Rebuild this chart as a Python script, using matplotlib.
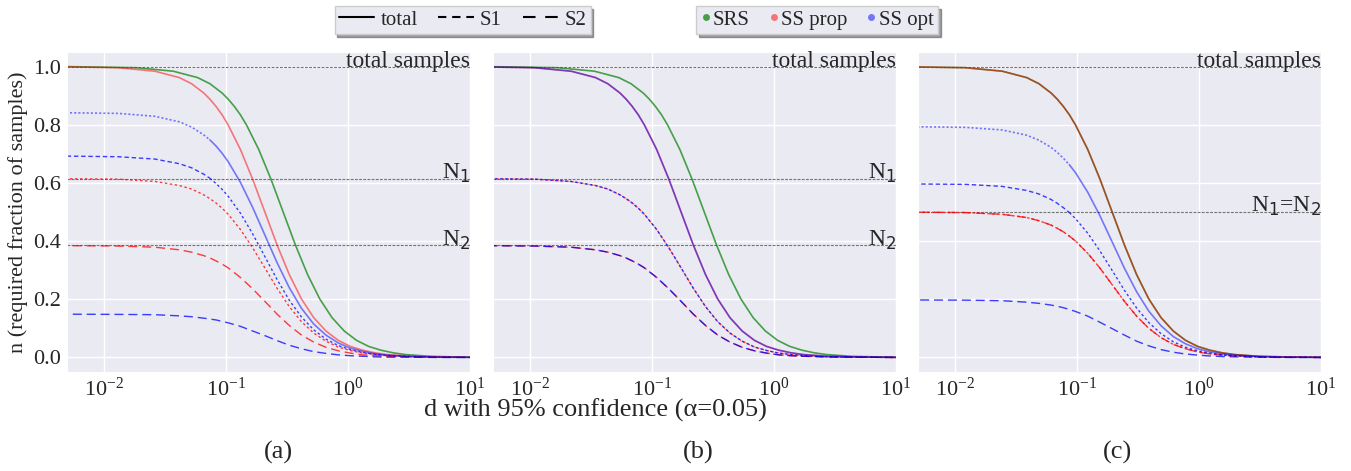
import numpy as np
import matplotlib
matplotlib.use("Agg")
import matplotlib.pyplot as plt
import seaborn as sns
from matplotlib.lines import Line2D
from matplotlib.ticker import NullFormatter, FixedLocator
import matplotlib.transforms as mtransforms

# ---------------- data ----------------
# x positions, log10(d)
logd_a_ss = [-2.48, -1.88, -1.58, -1.38, -1.28, -1.18, -1.13, -1.08, -1.03, -0.98, -0.88, -0.78, -0.68,
             -0.58, -0.48, -0.38, -0.28, -0.18, -0.08, 0.02, 0.12, 0.22, 0.32, 0.52, 0.72, 1.12]
logd_a_srs = [-2.33, -1.73, -1.43, -1.23, -1.13, -1.03, -0.98, -0.93, -0.88, -0.83, -0.73, -0.63, -0.53,
              -0.43, -0.33, -0.23, -0.13, -0.03, 0.07, 0.17, 0.27, 0.37, 0.47, 0.67, 0.87, 1.27]
logd_b_ss = [-2.56, -1.96, -1.66, -1.46, -1.36, -1.26, -1.21, -1.16, -1.11, -1.06, -0.96, -0.86, -0.76,
             -0.66, -0.56, -0.46, -0.36, -0.26, -0.16, -0.06, 0.04, 0.14, 0.24, 0.44, 0.64, 1.04]
logd_b_srs = [-2.37, -1.77, -1.47, -1.27, -1.17, -1.07, -1.02, -0.97, -0.92, -0.87, -0.77, -0.67, -0.57,
              -0.47, -0.37, -0.27, -0.17, -0.07, 0.03, 0.13, 0.23, 0.33, 0.43, 0.63, 0.83, 1.23]
logd_c = [-2.51, -1.91, -1.61, -1.41, -1.31, -1.21, -1.16, -1.11, -1.06, -1.01, -0.91, -0.81, -0.71,
          -0.61, -0.51, -0.41, -0.31, -0.21, -0.11, -0.01, 0.09, 0.19, 0.29, 0.49, 0.69, 1.09]

# panel (a)
a_srs_total = [1.000, 0.996, 0.984, 0.962, 0.941, 0.909, 0.888, 0.863, 0.834, 0.799, 0.715, 0.613, 0.500,
               0.387, 0.285, 0.201, 0.137, 0.091, 0.059, 0.038, 0.025, 0.016, 0.010, 0.004, 0.002, 0.000]
a_prop_total = [1.000, 0.996, 0.984, 0.962, 0.941, 0.909, 0.888, 0.863, 0.834, 0.799, 0.715, 0.613, 0.500,
                0.387, 0.285, 0.201, 0.137, 0.091, 0.059, 0.038, 0.025, 0.016, 0.010, 0.004, 0.002, 0.000]
a_prop_s1 = [0.615, 0.613, 0.605, 0.591, 0.579, 0.559, 0.546, 0.531, 0.513, 0.492, 0.440, 0.377, 0.308,
             0.238, 0.175, 0.123, 0.084, 0.056, 0.036, 0.024, 0.015, 0.010, 0.006, 0.002, 0.001, 0.000]
a_prop_s2 = [0.385, 0.383, 0.379, 0.370, 0.362, 0.350, 0.342, 0.332, 0.321, 0.308, 0.275, 0.236, 0.193,
             0.149, 0.110, 0.077, 0.053, 0.035, 0.023, 0.015, 0.009, 0.006, 0.004, 0.002, 0.001, 0.000]
a_opt_total = [0.842, 0.839, 0.829, 0.810, 0.792, 0.765, 0.748, 0.727, 0.702, 0.673, 0.602, 0.516, 0.421,
               0.326, 0.240, 0.169, 0.115, 0.077, 0.050, 0.032, 0.021, 0.013, 0.008, 0.003, 0.001, 0.000]
a_opt_s1 = [0.693, 0.690, 0.682, 0.666, 0.652, 0.630, 0.616, 0.598, 0.578, 0.554, 0.496, 0.425, 0.347,
            0.268, 0.197, 0.139, 0.095, 0.063, 0.041, 0.027, 0.017, 0.011, 0.007, 0.003, 0.001, 0.000]
a_opt_s2 = [0.149, 0.148, 0.147, 0.143, 0.140, 0.135, 0.132, 0.129, 0.124, 0.119, 0.107, 0.091, 0.075,
            0.058, 0.042, 0.030, 0.020, 0.014, 0.009, 0.006, 0.004, 0.002, 0.001, 0.001, 0.000, 0.000]

# panel (b)
b_srs_total = [1.000, 0.996, 0.984, 0.962, 0.941, 0.909, 0.888, 0.863, 0.834, 0.799, 0.715, 0.613, 0.500,
               0.387, 0.285, 0.201, 0.137, 0.091, 0.059, 0.038, 0.025, 0.016, 0.010, 0.004, 0.002, 0.000]
b_prop_total = [1.000, 0.996, 0.984, 0.962, 0.941, 0.909, 0.888, 0.863, 0.834, 0.799, 0.715, 0.613, 0.500,
                0.387, 0.285, 0.201, 0.137, 0.091, 0.059, 0.038, 0.025, 0.016, 0.010, 0.004, 0.002, 0.000]
b_prop_s1 = [0.615, 0.613, 0.605, 0.591, 0.579, 0.559, 0.546, 0.531, 0.513, 0.492, 0.440, 0.377, 0.308,
             0.238, 0.175, 0.123, 0.084, 0.056, 0.036, 0.024, 0.015, 0.010, 0.006, 0.002, 0.001, 0.000]
b_prop_s2 = [0.385, 0.383, 0.379, 0.370, 0.362, 0.350, 0.342, 0.332, 0.321, 0.308, 0.275, 0.236, 0.193,
             0.149, 0.110, 0.077, 0.053, 0.035, 0.023, 0.015, 0.009, 0.006, 0.004, 0.002, 0.001, 0.000]
b_opt_total = [1.000, 0.996, 0.984, 0.962, 0.941, 0.909, 0.888, 0.863, 0.834, 0.799, 0.715, 0.613, 0.500,
               0.387, 0.285, 0.201, 0.137, 0.091, 0.059, 0.038, 0.025, 0.016, 0.010, 0.004, 0.002, 0.000]
b_opt_s1 = [0.615, 0.613, 0.605, 0.591, 0.579, 0.559, 0.546, 0.531, 0.513, 0.492, 0.440, 0.377, 0.308,
            0.238, 0.175, 0.123, 0.084, 0.056, 0.036, 0.024, 0.015, 0.010, 0.006, 0.002, 0.001, 0.000]
b_opt_s2 = [0.385, 0.383, 0.379, 0.370, 0.362, 0.350, 0.342, 0.332, 0.321, 0.308, 0.275, 0.236, 0.193,
            0.149, 0.110, 0.077, 0.053, 0.035, 0.023, 0.015, 0.009, 0.006, 0.004, 0.002, 0.001, 0.000]

# panel (c)
c_srs_total = [1.000, 0.996, 0.984, 0.962, 0.941, 0.909, 0.888, 0.863, 0.834, 0.799, 0.715, 0.613, 0.500,
               0.387, 0.285, 0.201, 0.137, 0.091, 0.059, 0.038, 0.025, 0.016, 0.010, 0.004, 0.002, 0.000]
c_prop_total = [1.000, 0.996, 0.984, 0.962, 0.941, 0.909, 0.888, 0.863, 0.834, 0.799, 0.715, 0.613, 0.500,
                0.387, 0.285, 0.201, 0.137, 0.091, 0.059, 0.038, 0.025, 0.016, 0.010, 0.004, 0.002, 0.000]
c_prop_s1 = [0.500, 0.498, 0.492, 0.481, 0.470, 0.455, 0.444, 0.432, 0.417, 0.400, 0.358, 0.307, 0.250,
             0.193, 0.142, 0.100, 0.068, 0.045, 0.030, 0.019, 0.012, 0.008, 0.005, 0.002, 0.001, 0.000]
c_prop_s2 = [0.500, 0.498, 0.492, 0.481, 0.470, 0.455, 0.444, 0.432, 0.417, 0.400, 0.358, 0.307, 0.250,
             0.193, 0.142, 0.100, 0.068, 0.045, 0.030, 0.019, 0.012, 0.008, 0.005, 0.002, 0.001, 0.000]
c_opt_total = [0.794, 0.791, 0.782, 0.764, 0.747, 0.722, 0.705, 0.685, 0.662, 0.635, 0.568, 0.487, 0.397,
               0.307, 0.226, 0.159, 0.109, 0.072, 0.047, 0.030, 0.019, 0.012, 0.008, 0.003, 0.001, 0.000]
c_opt_s1 = [0.597, 0.595, 0.588, 0.574, 0.562, 0.543, 0.530, 0.515, 0.498, 0.477, 0.427, 0.366, 0.299,
            0.231, 0.170, 0.120, 0.082, 0.054, 0.035, 0.023, 0.015, 0.009, 0.006, 0.002, 0.001, 0.000]
c_opt_s2 = [0.198, 0.197, 0.195, 0.190, 0.186, 0.180, 0.176, 0.171, 0.165, 0.158, 0.142, 0.121, 0.099,
            0.077, 0.056, 0.040, 0.027, 0.018, 0.012, 0.008, 0.005, 0.003, 0.002, 0.001, 0.000, 0.000]

# stratum sizes (fractions)
N_a = [0.615, 0.385]
N_b = [0.615, 0.385]
N_c = [0.5, 0.5]

legend_lines = ["total", "S1", "S2"]
legend_methods = ["SRS", "SS prop", "SS opt"]
panel_tags = ["(a)", "(b)", "(c)"]
xtick_vals = [1e-2, 1e-1, 1e0, 1e1]
ytick_vals = [0.0, 0.2, 0.4, 0.6, 0.8, 1.0]

# ---------------- style ----------------
sns.set_style("darkgrid")
plt.rcParams['font.family'] = ['Liberation Serif', 'DejaVu Serif']
plt.rcParams['mathtext.fontset'] = 'dejavusans'
plt.rcParams['lines.scale_dashes'] = False

C_SRS = dict(color='green', alpha=0.7)
C_PROP = dict(color='red', alpha=0.5)
C_OPT = dict(color='blue', alpha=0.5)
C_PROP_S = dict(color='red', alpha=0.75)
C_OPT_S = dict(color='blue', alpha=0.75)
D_S1 = (0, (1.8, 1.8))
D_S1_INV = (0, (3.2, 2.0))
D_S2 = (0, (6.5, 3.5))
D_DOT = (0, (1.5, 1.5))
LW_T = 1.2
LW_S = 1.0

fig = plt.figure(figsize=(13.51, 4.71), dpi=100)
W, H = 1351.0, 471.0
lefts = [67, 493, 918]
axes = []
for L in lefts:
    ax = fig.add_axes([L / W, 1 - 372 / H, 403 / W, 320 / H])
    axes.append(ax)


def draw_panel(ax, N, srs_x, srs_t, ss_x, prop_t, prop_s1, prop_s2, opt_t, opt_s1, opt_s2,
               labels, blue_offset=0.0):
    dx_srs = 10 ** np.array(srs_x)
    dx = 10 ** np.array(ss_x)
    # reference lines
    for v in [1.0] + list(labels.keys()):
        ax.axhline(v, color='0.45', lw=0.8, ls=(0, (2.0, 1.0)), zorder=1.5)
    trans = mtransforms.blended_transform_factory(ax.transAxes, ax.transData)
    ax.text(1.0, 1.0, "total samples", transform=trans, ha='right', va='baseline', fontsize=17)
    for v, t in labels.items():
        ax.text(1.0, v, t, transform=trans, ha='right', va='baseline', fontsize=17)

    ax.plot(dx_srs, srs_t, lw=LW_T, **C_SRS)
    ax.plot(dx, prop_t, lw=LW_T, **C_PROP)
    ax.plot(dx, prop_s1, lw=LW_S, ls=D_S1, **C_PROP_S)
    ax.plot(dx, prop_s2, lw=LW_S, ls=D_S2, **C_PROP_S)

    s1 = np.array(opt_s1)
    t = np.array(opt_t)
    k = int(np.argmax(s1 <= N[0] + 0.002))
    if k > 0:
        ax.plot(dx[:k + 1], t[:k + 1], lw=LW_T, ls=D_DOT, **C_OPT)
        ax.plot(dx[k:], t[k:], lw=LW_T, **C_OPT)
        ax.plot(dx[:k + 1], s1[:k + 1], lw=LW_S, ls=D_S1_INV, **C_OPT_S)
        ax.plot(dx[k:], s1[k:], lw=LW_S, ls=D_S1, **C_OPT_S)
    else:
        ax.plot(dx, t, lw=LW_T, **C_OPT)
        ax.plot(dx, s1, lw=LW_S, ls=(blue_offset, D_S1[1]), **C_OPT_S)
    ax.plot(dx, opt_s2, lw=LW_S, ls=(blue_offset, D_S2[1]), **C_OPT_S)


draw_panel(axes[0], N_a, logd_a_srs, a_srs_total, logd_a_ss, a_prop_total, a_prop_s1, a_prop_s2,
           a_opt_total, a_opt_s1, a_opt_s2, {N_a[0]: "N$_1$", N_a[1]: "N$_2$"})
draw_panel(axes[1], N_b, logd_b_srs, b_srs_total, logd_b_ss, b_prop_total, b_prop_s1, b_prop_s2,
           b_opt_total, b_opt_s1, b_opt_s2, {N_b[0]: "N$_1$", N_b[1]: "N$_2$"}, blue_offset=1.0)
draw_panel(axes[2], N_c, logd_c, c_srs_total, logd_c, c_prop_total, c_prop_s1, c_prop_s2,
           c_opt_total, c_opt_s1, c_opt_s2, {N_c[0]: "N$_1$=N$_2$"})

for i, ax in enumerate(axes):
    ax.set_xscale('log')
    ax.set_xlim(10 ** -2.3, 10)
    ax.set_ylim(-0.05, 1.05)
    ax.xaxis.set_major_locator(FixedLocator(xtick_vals))
    ax.xaxis.set_minor_formatter(NullFormatter())
    ax.xaxis.set_minor_locator(FixedLocator([]))
    ax.set_yticks(ytick_vals)
    ax.tick_params(axis='both', length=0, labelsize=16, pad=4)
    ax.grid(True, color='white', lw=1.0)
    if i == 0:
        ax.set_yticklabels(["%.1f" % v for v in ytick_vals])
    else:
        ax.set_yticklabels([])
    fig.text([278, 698, 1117][i] / W, 1 - 452 / H, panel_tags[i], ha='center', va='center', fontsize=19)

fig.text(18 / W, 1 - 212 / H, "n (required fraction of samples)", rotation=90,
         ha='center', va='center', fontsize=16)
fig.text(595 / W, 1 - 410 / H, "d with 95% confidence (\u03b1=0.05)", ha='center', va='center', fontsize=19)

# legends
h1 = [Line2D([], [], color='black', lw=1.5),
      Line2D([], [], color='black', lw=1.5, ls=(0, (6.0, 4.2))),
      Line2D([], [], color='black', lw=1.5, ls=(0, (9.0, 7.0)))]
leg_kw = dict(loc='center', frameon=True, fancybox=False, shadow=True, facecolor='#eaeaf2',
              edgecolor='0.8', framealpha=1, fontsize=15, borderpad=0.2, borderaxespad=0.0)
fig.legend(h1, legend_lines, bbox_to_anchor=(462.5 / W, 1 - 20 / H), ncol=3, handlelength=1.7,
           handletextpad=0.3, columnspacing=1.0, **leg_kw)
h2 = [Line2D([], [], ls='none', marker='o', markersize=5, markeredgewidth=0, **C_SRS),
      Line2D([], [], ls='none', marker='o', markersize=5, markeredgewidth=0, **C_PROP),
      Line2D([], [], ls='none', marker='o', markersize=5, markeredgewidth=0, **C_OPT)]
fig.legend(h2, legend_methods, bbox_to_anchor=(817 / W, 1 - 20 / H), ncol=3, handlelength=0.5,
           handletextpad=0.1, columnspacing=0.9, **leg_kw)

fig.savefig("out.png", dpi=100)
